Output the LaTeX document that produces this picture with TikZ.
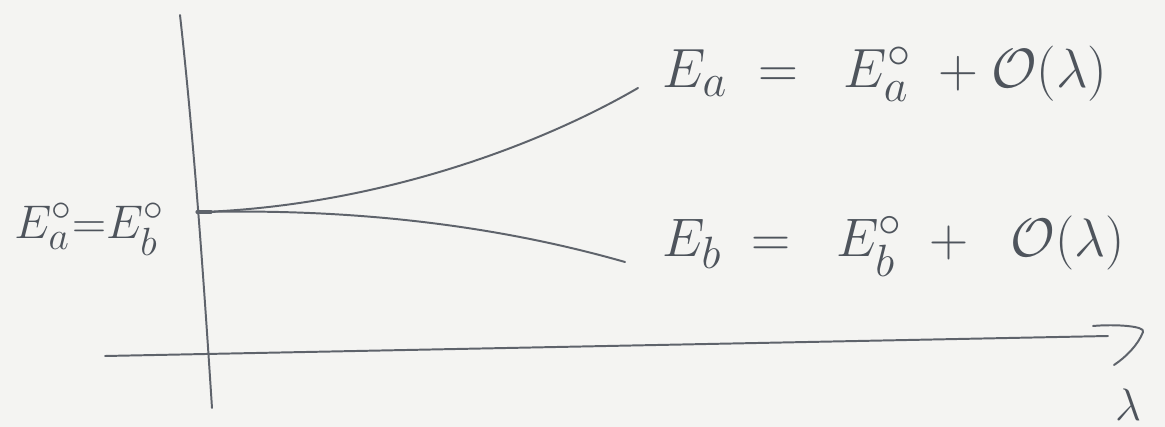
\documentclass[tikz,border=0pt]{standalone}
\usepackage{amsmath}
\begin{document}
\begin{tikzpicture}[x=0.025cm,y=-0.025cm,
  pencil/.style={draw=pen,line width=1.4pt,line cap=round,line join=round},
  lab/.style={text=ink,inner sep=0pt,anchor=base west,font=\Huge}]
\definecolor{pen}{HTML}{5E636B}
\definecolor{ink}{HTML}{4E545C}
\definecolor{paper}{HTML}{F4F4F2}
\useasboundingbox (0,0) rectangle (1165,427);
\fill[paper] (0,0) rectangle (1165,427);
% axes
\coordinate (ytop) at (180,15);
\coordinate (ybot) at (212,408);
\coordinate (xl) at (105,356);
\coordinate (xr) at (1108,336);
\coordinate (o) at (203,212);
\draw[pencil] (ytop) .. controls (195,150) and (205,300) .. (ybot);
\draw[pencil] (xl) -- (xr);
% hand-drawn arrowhead
\coordinate (h1) at (1093,326);
\coordinate (h2) at (1143,332);
\coordinate (h3) at (1114,365);
\draw[pencil] (h1) .. controls (1115,324) and (1146,326) .. (h2) .. controls (1138,345) and (1126,357) .. (h3);
% tick
\draw[pencil,line width=2.2pt] (197,212) -- (211,212);
% curves
\coordinate (ea) at (638,88);
\coordinate (eb) at (625,262);
\draw[pencil] (o) .. controls (380,205) and (540,145) .. (ea);
\draw[pencil] (o) .. controls (380,208) and (520,232) .. (eb);
% labels
\node[lab,scale=1.35] (l0) at (14,238) {$E^{\circ}_{a}{=}E^{\circ}_{b}$};
\node[lab,scale=1.58] (la) at (662,88) {$E_{a}\;=\;\; E^{\circ}_{a}\;+\mathcal{O}(\lambda)$};
\node[lab,scale=1.55] (lb) at (662,256) {$E_{b}\;=\;\; E^{\circ}_{b}\;+\;\;\mathcal{O}(\lambda)$};
\node[text=ink,font=\Huge,scale=1.3,inner sep=0pt,anchor=south] (lam) at (1128,421) {$\lambda$};
\end{tikzpicture}
\end{document}
